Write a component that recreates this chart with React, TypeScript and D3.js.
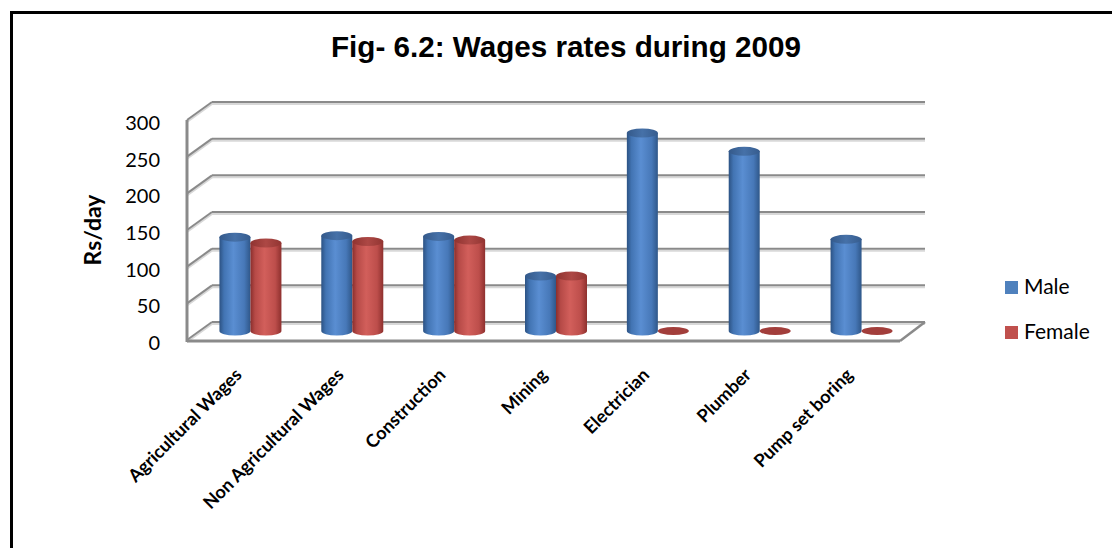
import React from "react";
import * as d3 from "d3";

const categories = [
  "Agricultural Wages",
  "Non Agricultural Wages",
  "Construction",
  "Mining",
  "Electrician",
  "Plumber",
  "Pump set boring",
];
const male = [128, 130, 129, 75, 270, 245, 125];
const female = [120, 122, 124, 75, 0, 0, 0];
const yTicks = [0, 50, 100, 150, 200, 250, 300];
const seriesNames = ["Male", "Female"];

const W = 1112;
const H = 548;
const DX = 25; // depth offset (back wall is right/up of front)
const DY = -18;

export default function App() {
  const yBack = d3.scaleLinear().domain([0, 300]).range([322, 102]);
  const x = d3.scaleBand<string>().domain(categories).range([187, 900]).paddingInner(0).paddingOuter(0);
  const frontLeft = 187;
  const frontRight = 900;
  const bw = 31;
  const rx = bw / 2;
  const ry = 4.5;
  const midOffX = DX / 2;
  const midOffY = DY / 2;
  const yMid = (v: number) => yBack(v) - midOffY;

  const gridColor = "#8a8a8a";
  const shadowColor = "#d8d8d8";

  const cyl = (cx: number, v: number, s: number, key: string) => {
    const top = yMid(v);
    const bot = yMid(0);
    const x0 = cx - rx;
    const x1 = cx + rx;
    if (v <= 0) {
      return (
        <ellipse key={key} cx={cx} cy={bot} rx={rx} ry={ry - 0.5} fill={s === 0 ? "#3d6aa0" : "#a23e3b"} />
      );
    }
    const d = `M${x0},${top} L${x0},${bot} A${rx},${ry} 0 0 0 ${x1},${bot} L${x1},${top} Z`;
    return (
      <g key={key}>
        <path d={d} fill={`url(#grad${s})`} />
        <ellipse cx={cx} cy={top} rx={rx} ry={ry} fill={`url(#top${s})`} />
      </g>
    );
  };

  return (
    <svg width={W} height={H} style={{ position: "absolute", left: 0, top: 0, background: "#fff" }}>
      <defs>
        <linearGradient id="grad0" x1="0" x2="1" y1="0" y2="0">
          <stop offset="0%" stopColor="#2c5283" />
          <stop offset="15%" stopColor="#4274b3" />
          <stop offset="45%" stopColor="#5a8ed2" />
          <stop offset="80%" stopColor="#4778b8" />
          <stop offset="100%" stopColor="#2f5789" />
        </linearGradient>
        <linearGradient id="grad1" x1="0" x2="1" y1="0" y2="0">
          <stop offset="0%" stopColor="#8a2e2c" />
          <stop offset="15%" stopColor="#b64a47" />
          <stop offset="45%" stopColor="#d25f5b" />
          <stop offset="80%" stopColor="#bd4e4b" />
          <stop offset="100%" stopColor="#8e302e" />
        </linearGradient>
        <linearGradient id="top0" x1="0" x2="1" y1="0" y2="0">
          <stop offset="0%" stopColor="#34598a" />
          <stop offset="50%" stopColor="#4671a8" />
          <stop offset="100%" stopColor="#365c8e" />
        </linearGradient>
        <linearGradient id="top1" x1="0" x2="1" y1="0" y2="0">
          <stop offset="0%" stopColor="#8f3330" />
          <stop offset="50%" stopColor="#ad4845" />
          <stop offset="100%" stopColor="#923532" />
        </linearGradient>
      </defs>

      {/* outer border */}
      <rect x={11.5} y={12.5} width={1120} height={560} fill="none" stroke="#000" strokeWidth={3} />

      {/* title */}
      <text
        x={566}
        y={57}
        textAnchor="middle"
        fontFamily="'Liberation Sans', Arial, sans-serif"
        fontWeight="bold"
        fontSize={29}
        textLength={470}
        lengthAdjust="spacingAndGlyphs"
        fill="#000"
      >
        Fig- 6.2: Wages rates during 2009
      </text>

      {/* gridlines: back wall + side wall */}
      {yTicks.map((t) => {
        const yb = yBack(t);
        const xb0 = frontLeft + DX;
        return (
          <g key={"g" + t}>
            <line x1={xb0} x2={frontRight + DX} y1={yb + 2} y2={yb + 2} stroke={shadowColor} strokeWidth={2} />
            <line x1={frontLeft} x2={xb0} y1={yb - DY + 2} y2={yb + 2} stroke={shadowColor} strokeWidth={2} />
            <line x1={xb0} x2={frontRight + DX} y1={yb} y2={yb} stroke={gridColor} strokeWidth={2} />
            <line x1={frontLeft} x2={xb0} y1={yb - DY} y2={yb} stroke={gridColor} strokeWidth={2} />
          </g>
        );
      })}

      {/* floor */}
      <line x1={frontLeft} x2={frontRight} y1={yBack(0) - DY + 1} y2={yBack(0) - DY + 1} stroke={gridColor} strokeWidth={3} />
      <line x1={frontRight} x2={frontRight + DX} y1={yBack(0) - DY + 1} y2={yBack(0)} stroke={gridColor} strokeWidth={2.5} />
      {/* vertical axis */}
      <line x1={frontLeft} x2={frontLeft} y1={yBack(300) - DY} y2={yBack(0) - DY + 2} stroke={gridColor} strokeWidth={3} />

      {/* bars */}
      {categories.map((c, i) => {
        const cx = (x(c) as number) + x.bandwidth() / 2 + midOffX;
        return (
          <g key={"b" + i}>
            {cyl(cx - rx, male[i], 0, "m" + i)}
            {cyl(cx + rx, female[i], 1, "f" + i)}
          </g>
        );
      })}

      {/* y tick labels */}
      {yTicks.map((t) => (
        <text
          key={"t" + t}
          x={160}
          y={yBack(t) - DY}
          dy="0.5em"
          textAnchor="end"
          fontFamily="Lato, 'Open Sans', sans-serif"
          fontSize={20}
          fill="#000"
        >
          {t}
        </text>
      ))}

      {/* y axis title */}
      <text
        transform={`translate(101,230) rotate(-90)`}
        textAnchor="middle"
        fontFamily="Lato, 'Open Sans', sans-serif"
        fontWeight="bold"
        fontSize={23}
        fill="#000"
      >
        Rs/day
      </text>

      {/* x labels */}
      {categories.map((c, i) => {
        const xc = (x(c) as number) + x.bandwidth() / 2 + 5;
        return (
          <text
            key={"x" + i}
            transform={`translate(${xc},376) rotate(-45)`}
            textAnchor="end"
            fontFamily="Lato, 'Open Sans', sans-serif"
            fontWeight="bold"
            fontSize={18}
            fill="#000"
          >
            {c}
          </text>
        );
      })}

      {/* legend */}
      {seriesNames.map((s, i) => (
        <g key={"l" + s} transform={`translate(1005,${281 + i * 45})`}>
          <rect x={0} y={0} width={13} height={13} fill={i === 0 ? "#4f81bd" : "#c0504d"} />
          <text x={19} y={13} fontFamily="Lato, 'Open Sans', sans-serif" fontSize={21} fill="#000">
            {s}
          </text>
        </g>
      ))}
    </svg>
  );
}
